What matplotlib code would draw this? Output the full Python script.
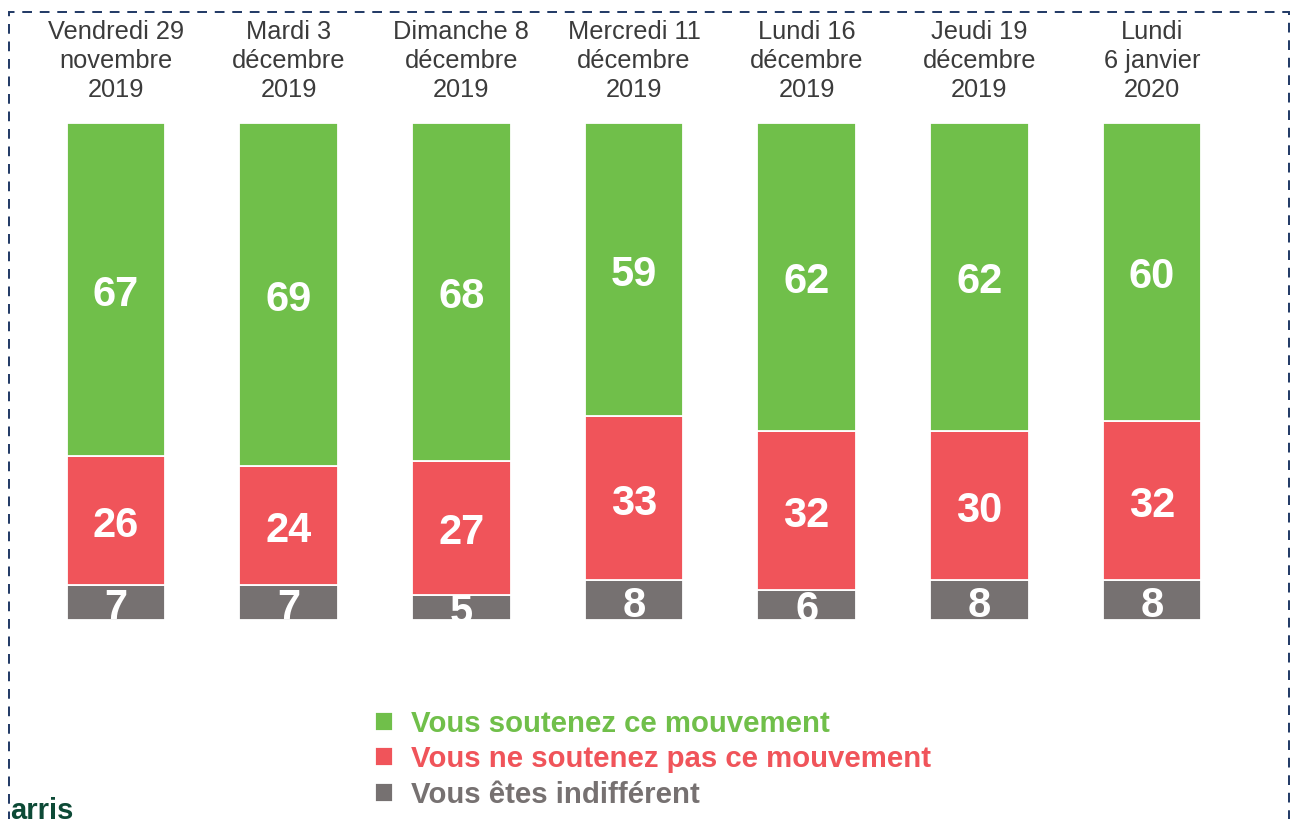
import matplotlib.pyplot as plt
from matplotlib.patches import Rectangle
import numpy as np

plt.rcParams['font.family'] = ['Liberation Sans', 'DejaVu Sans']

dates = ["Vendredi 29\nnovembre\n2019", "Mardi 3\ndécembre\n2019", "Dimanche 8\ndécembre\n2019",
         "Mercredi 11\ndécembre\n2019", "Lundi 16\ndécembre\n2019", "Jeudi 19\ndécembre\n2019",
         "Lundi\n6 janvier\n2020"]
soutien = [67, 69, 68, 59, 62, 62, 60]
opposition = [26, 24, 27, 33, 32, 30, 32]
indifferent = [7, 7, 5, 8, 6, 8, 8]

labels = ["Vous soutenez ce mouvement", "Vous ne soutenez pas ce mouvement", "Vous êtes indifférent"]
colors = ["#70bf4a", "#f0545a", "#767171"]

fig = plt.figure(figsize=(12.96, 8.19), dpi=100)
ax = fig.add_axes([29.65 / 1296, 199 / 819, 1208.7 / 1296, 497 / 819])

x = np.arange(len(dates))
width = 0.57
fs = 30
# empilement : indifferent en bas, puis opposition, puis soutien
series = [indifferent, opposition, soutien]
series_colors = [colors[2], colors[1], colors[0]]
bottom = np.zeros(len(dates))
containers = []
for vals, col in zip(series, series_colors):
    bars = ax.bar(x, vals, width, bottom=bottom, color=col, edgecolor='white', linewidth=1.3)
    containers.append(bars)
    for rect, v, b in zip(bars, vals, bottom):
        # ligne de base decalee pour centrer les chiffres dans le segment
        t = ax.annotate(str(v), (rect.get_x() + rect.get_width() / 2, b + v / 2),
                        xytext=(0, -0.36 * fs - 1), textcoords='offset points',
                        ha='center', va='baseline', color='white', fontsize=fs, fontweight='bold')
        t.set_clip_path(rect)
    bottom += np.array(vals)

for i, d in enumerate(dates):
    ax.text(i, 1.1247, d, transform=ax.get_xaxis_transform(), ha='center', va='center',
            fontsize=18.3, color='#3b3b3b', linespacing=1.27)

ax.set_xlim(-0.5, len(dates) - 0.5)
ax.set_ylim(0, 100)
ax.axis('off')

# legende
handles = [containers[2][0], containers[1][0], containers[0][0]]
leg = fig.legend(handles, labels, loc='upper left', bbox_to_anchor=(354 / 1296, 1 - 689 / 819),
                 frameon=False, prop={'size': 21.2, 'weight': 'bold'}, labelcolor=colors,
                 handlelength=0.62, handleheight=0.62, handletextpad=0.6, labelspacing=0.26,
                 borderpad=0.2)

# cadre pointille
fig.add_artist(Rectangle((9 / 1296, -0.05), 1280 / 1296, 1.05 - 12 / 819, transform=fig.transFigure,
                         fill=False, edgecolor='#1f3864', linewidth=1.4, linestyle=(0, (5, 4))))

fig.text(10 / 1296, 1 - 797 / 819, "arris", ha='left', va='top', fontsize=21,
         fontweight='bold', color='#0d4a36')

plt.savefig("out.png", dpi=100)
